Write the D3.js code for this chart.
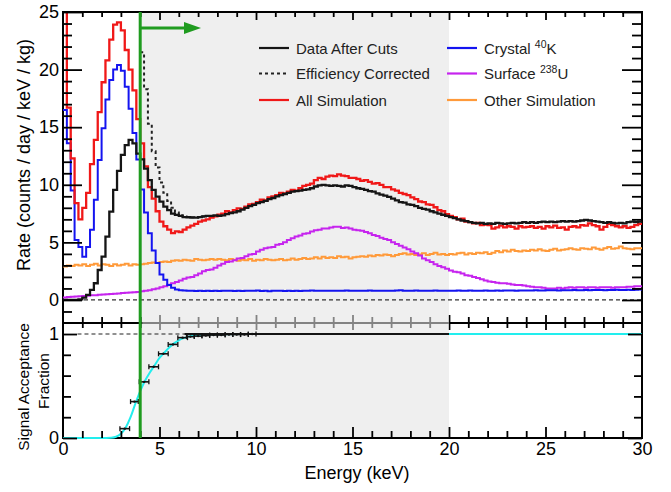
<!DOCTYPE html>
<html><head><meta charset="utf-8">
<script src="https://cdn.jsdelivr.net/npm/d3@7"></script>
<style>body{margin:0;background:#fff}svg{display:block}text{font-family:"Liberation Sans",Arial,Helvetica,sans-serif}</style>
</head><body><svg id="c" width="671" height="492"></svg>
<script>
// ---------------- DATA ----------------
const binWidth = 0.2; // keV, histograms start at 0 keV
const dataAfterCuts = [
0,0,0,0,0.05,0.2,0.45,0.87,1.45,2.6,
3.76,5.5,7.67,9.55,11.2,12.6,13.45,13.9,13.6,12.7,
12.2,11.4,10.4,9.55,8.97,8.53,8.1,7.8,7.5,7.38,
7.3,7.2,7.18,7.15,7.15,7.2,7.25,7.3,7.3,7.35,
7.3,7.35,7.45,7.55,7.6,7.7,7.85,8.0,8.15,8.25,
8.4,8.5,8.6,8.75,8.85,9.0,9.1,9.2,9.3,9.4,
9.45,9.5,9.55,9.6,9.7,9.85,9.95,10.0,9.95,9.9,
9.95,9.9,9.85,9.95,9.9,9.8,9.7,9.65,9.55,9.45,
9.4,9.25,9.15,9.05,8.95,8.8,8.65,8.5,8.45,8.3,
8.25,8.15,8.0,7.9,7.85,7.7,7.6,7.5,7.4,7.3,
7.2,7.1,7.0,6.9,6.85,6.75,6.7,6.65,6.7,6.6,
6.65,6.6,6.7,6.65,6.6,6.65,6.7,6.65,6.7,6.75,
6.7,6.75,6.7,6.75,6.8,6.75,6.8,6.75,6.8,6.85,
6.8,6.85,6.8,6.85,6.9,6.95,6.9,6.85,6.8,6.75,
6.7,6.75,6.7,6.65,6.7,6.65,6.75,6.8,6.75,6.8];
const effCorrectedStartBin = 20;
const efficiencyCorrected = [21.5,18.3,15.3,12.9,11.5,10.2,9.3,8.6,8.0,7.6,7.35,7.25,7.2,7.18,7.16,7.2,7.25];
const allSimulation = [
28,16.7,12.3,8.4,7.0,8.0,9.3,11.8,13.9,16.3,
18.9,20.8,22.6,23.9,24.1,23.4,21.7,20.0,18.2,15.7,
13.6,11.6,9.8,8.8,7.7,6.8,6.4,6.1,5.8,5.95,
5.9,6.1,6.3,6.45,6.6,6.8,6.9,7.0,7.15,7.25,
7.4,7.5,7.7,7.6,7.8,7.95,7.9,8.1,8.3,8.35,
8.5,8.7,8.65,8.9,9.0,9.1,9.3,9.25,9.4,9.55,
9.5,9.7,9.9,10.0,10.1,10.4,10.6,10.5,10.7,10.8,
10.75,10.9,10.8,10.75,10.6,10.6,10.5,10.35,10.4,10.25,
10.1,10.15,10.0,9.8,9.8,9.6,9.5,9.3,9.2,9.1,
8.9,8.75,8.55,8.5,8.3,8.25,8.05,7.8,7.7,7.45,
7.3,7.2,7.0,7.05,6.8,6.75,6.65,6.7,6.5,6.55,
6.5,6.2,6.3,6.45,6.3,6.4,6.35,6.2,6.4,6.3,
6.35,6.4,6.25,6.35,6.2,6.4,6.3,6.45,6.25,6.3,
6.1,6.35,6.4,6.3,6.5,6.45,6.65,6.5,6.4,6.1,
6.35,6.6,6.5,6.4,6.3,6.4,6.25,6.35,6.5,6.6];
const crystalK40 = [
16.5,13.6,9.5,5.2,4.6,3.76,4.6,6.1,8.7,12.15,
14.9,17.4,19.1,20.0,20.4,19.9,18.5,16.6,14.5,12.2,
9.6,7.6,5.8,4.3,3.2,2.2,1.75,1.3,1.05,0.9,
0.85,0.82,0.8,0.8,0.78,0.8,0.78,0.8,0.77,0.8,
0.78,0.8,0.79,0.8,0.77,0.8,0.78,0.8,0.79,0.8,
0.82,0.78,0.8,0.76,0.8,0.79,0.8,0.78,0.8,0.77,
0.8,0.78,0.79,0.8,0.82,0.8,0.79,0.8,0.81,0.8,
0.8,0.79,0.8,0.83,0.8,0.81,0.79,0.8,0.8,0.82,
0.8,0.79,0.8,0.81,0.8,0.8,0.82,0.85,0.8,0.81,
0.8,0.82,0.8,0.81,0.8,0.8,0.82,0.8,0.79,0.8,
0.81,0.8,0.82,0.8,0.8,0.83,0.8,0.81,0.8,0.82,
0.8,0.81,0.82,0.8,0.82,0.83,0.82,0.8,0.83,0.82,
0.83,0.82,0.84,0.83,0.82,0.84,0.85,0.84,0.83,0.85,
0.84,0.85,0.86,0.85,0.84,0.86,0.85,0.86,0.87,0.86,
0.85,0.87,0.86,0.88,0.87,0.86,0.88,0.87,0.88,0.9];
const surfaceU238 = [
0.22,0.25,0.27,0.3,0.32,0.35,0.37,0.4,0.42,0.45,
0.47,0.5,0.52,0.55,0.57,0.6,0.62,0.65,0.67,0.7,
0.75,0.8,0.85,0.92,1.0,1.1,1.2,1.32,1.45,1.55,
1.7,1.85,1.95,2.0,2.15,2.3,2.5,2.6,2.65,2.8,
3.0,3.15,3.3,3.35,3.45,3.6,3.65,3.8,3.95,4.0,
4.2,4.35,4.5,4.55,4.6,4.8,4.85,5.0,5.2,5.35,
5.5,5.6,5.75,5.8,5.95,6.05,6.1,6.2,6.2,6.3,
6.35,6.35,6.25,6.3,6.2,6.1,6.05,6.0,5.9,5.8,
5.65,5.55,5.4,5.3,5.2,5.0,4.85,4.7,4.55,4.4,
4.2,4.05,3.85,3.6,3.45,3.3,3.1,2.95,2.85,2.7,
2.55,2.45,2.4,2.3,2.15,2.1,2.0,1.9,1.8,1.7,
1.6,1.55,1.5,1.45,1.45,1.4,1.35,1.3,1.3,1.25,
1.2,1.15,1.1,1.1,1.05,1.0,1.0,1.0,1.05,1.0,
1.05,1.1,1.05,1.1,1.1,1.05,1.1,1.1,1.05,1.1,
1.1,1.1,1.05,1.1,1.1,1.1,1.15,1.15,1.2,1.2];
const otherSimulation = [
2.9,3.0,2.95,3.05,3.0,3.1,2.95,3.05,3.15,3.0,
3.1,3.05,2.95,3.1,3.0,3.05,3.15,3.0,3.1,3.05,
3.1,3.15,3.2,3.25,3.2,3.3,3.35,3.3,3.4,3.45,
3.4,3.5,3.45,3.4,3.55,3.5,3.45,3.5,3.55,3.5,
3.55,3.5,3.45,3.55,3.5,3.4,3.5,3.45,3.55,3.4,
3.5,3.45,3.55,3.5,3.45,3.5,3.55,3.45,3.5,3.6,
3.5,3.55,3.65,3.55,3.6,3.7,3.6,3.75,3.65,3.7,
3.65,3.8,3.7,3.75,3.6,3.7,3.75,3.8,3.75,3.85,
3.8,3.9,3.85,3.95,3.9,3.8,3.9,4.0,4.05,3.95,
4.0,3.9,3.95,4.05,3.9,4.0,4.1,3.95,4.0,3.9,
4.0,3.95,4.05,4.1,3.95,4.05,4.0,4.1,4.05,4.15,
4.0,4.1,4.25,4.15,4.3,4.2,4.35,4.25,4.2,4.3,
4.25,4.35,4.3,4.4,4.3,4.25,4.35,4.45,4.3,4.35,
4.4,4.5,4.4,4.35,4.5,4.45,4.4,4.55,4.45,4.35,
4.5,4.6,4.45,4.5,4.65,4.5,4.45,4.4,4.5,4.5];

// acceptance (bottom panel)
const accCurveE = [0,1,2,2.5,2.75,3.0,3.25,3.5,3.75,4.0,4.25,4.5,4.75,5.0,5.25,5.5,5.75,6.0,6.25,6.5,7.0,8.0,10,20,30];
const accCurveV = [0,0,0,0.003,0.012,0.04,0.1,0.2,0.33,0.45,0.55,0.63,0.7,0.77,0.82,0.87,0.91,0.94,0.96,0.975,0.99,0.998,1,1,1];
const accPointE = [3.2,3.7,4.2,4.7,5.2,5.7,6.2,6.6,7.0,7.4,7.8,8.2,8.6,9.0,9.4,9.8];
const accPointV = [0.09,0.35,0.54,0.685,0.81,0.9,0.965,0.975,0.98,0.985,0.99,0.99,0.995,0.995,0.995,1.0];
const accPointErr = [0.25,0.2,0.25,0.25,0.25,0.25,0.25,0.2,0.2,0.2,0.2,0.2,0.2,0.2,0.2,0.2];
const accPlateau = [6.3, 20];
const refLineStart = 0.75;

const thresholdE = 4;
const arrowEndE = 7.15;
const shadeRange = [4, 20];
const xTicksMajor = [0,5,10,15,20,25,30];
const yTopTicksMajor = [0,5,10,15,20,25];
const yBotTicksMajor = [0,1];
const yBotTicksMinor = [0.2,0.4,0.6,0.8];

// ---------------- LAYOUT ----------------
const X0=63, X1=642, TT=12, TB=323, BB=438;
const svg = d3.select('#c');
const x = d3.scaleLinear().domain([0,30]).range([X0,X1]);
const yT = d3.scaleLinear().domain([-2,25]).range([TB,TT]);
const yB = d3.scaleLinear().domain([0,1.106]).range([BB,TB]);

// shaded signal region
svg.append('rect').attr('x',x(shadeRange[0])).attr('y',TT)
  .attr('width',x(shadeRange[1])-x(shadeRange[0])).attr('height',BB-TT).attr('fill','#efefef');

// frames (drawn first so bottom-panel curves sit on top, as in the original)
svg.append('rect').attr('x',X0).attr('y',TT).attr('width',X1-X0).attr('height',TB-TT).attr('fill','none').attr('stroke','#000').attr('stroke-width',2);
svg.append('rect').attr('x',X0).attr('y',TB).attr('width',X1-X0).attr('height',BB-TB).attr('fill','none').attr('stroke','#000').attr('stroke-width',2);

const defs = svg.append('defs');
defs.append('clipPath').attr('id','clipT').append('rect').attr('x',X0).attr('y',TT).attr('width',X1-X0).attr('height',TB-TT);
defs.append('clipPath').attr('id','clipB').append('rect').attr('x',X0).attr('y',TB).attr('width',X1-X0).attr('height',BB-TB+1);

const gT = svg.append('g').attr('clip-path','url(#clipT)');
gT.append('line').attr('x1',x(0)).attr('x2',x(30)).attr('y1',yT(0)).attr('y2',yT(0))
  .attr('stroke','#333').attr('stroke-width',1.2).attr('stroke-dasharray','4,3');

function stepPts(vals, startBin){
  const p = vals.map((v,i)=>[(startBin+i)*binWidth, v]);
  p.push([(startBin+vals.length)*binWidth, vals[vals.length-1]]);
  return p;
}
const stepLine = d3.line().x(d=>x(d[0])).y(d=>yT(d[1])).curve(d3.curveStepAfter);

const series = [
  {vals:otherSimulation, start:0, color:'#ff9a3a', w:2},
  {vals:surfaceU238, start:0, color:'#c624ee', w:2},
  {vals:crystalK40, start:0, color:'#1414f0', w:2},
  {vals:allSimulation, start:0, color:'#f01818', w:2.3},
  {vals:efficiencyCorrected, start:effCorrectedStartBin, color:'#222', w:2, dash:'3,3'},
  {vals:dataAfterCuts, start:0, color:'#151515', w:2.3}
];
series.forEach(s=>{
  gT.append('path').attr('d',stepLine(stepPts(s.vals,s.start))).attr('fill','none')
    .attr('stroke',s.color).attr('stroke-width',s.w).attr('stroke-linejoin','miter')
    .attr('stroke-dasharray',s.dash||null);
});

// bottom panel
const gB = svg.append('g').attr('clip-path','url(#clipB)');
gB.append('line').attr('x1',x(refLineStart)).attr('x2',x(30)).attr('y1',yB(1)).attr('y2',yB(1))
  .attr('stroke','#222').attr('stroke-width',1.2).attr('stroke-dasharray','4,3');
const accLine = d3.line().x((d,i)=>x(d)).y((d,i)=>yB(accCurveV[i])).curve(d3.curveMonotoneX);
gB.append('path').attr('d',accLine(accCurveE)).attr('fill','none').attr('stroke','#22eeee').attr('stroke-width',2);
gB.append('line').attr('x1',x(accPlateau[0])).attr('x2',x(accPlateau[1])).attr('y1',yB(1)).attr('y2',yB(1))
  .attr('stroke','#151515').attr('stroke-width',2);
accPointE.forEach((e,i)=>{
  const yy = yB(accPointV[i]), xa = x(e-accPointErr[i]), xb = x(e+accPointErr[i]);
  gB.append('line').attr('x1',xa).attr('x2',xb).attr('y1',yy).attr('y2',yy).attr('stroke','#111').attr('stroke-width',1.6);
  [xa,xb].forEach(xx=>gB.append('line').attr('x1',xx).attr('x2',xx).attr('y1',yy-2.5).attr('y2',yy+2.5).attr('stroke','#111').attr('stroke-width',1.3));
  gB.append('circle').attr('cx',x(e)).attr('cy',yy).attr('r',1.2).attr('fill','#111');
});

function tickAxis(gen, values, size, tr){
  const g = svg.append('g').attr('transform',tr).call(gen.tickValues(values).tickSize(size).tickFormat(''));
  g.select('.domain').remove();
  g.selectAll('line').attr('stroke','#000').attr('stroke-width',1.8);
}
const xMinor = d3.range(1,30).filter(v=>v%5!==0);
const xMajorIn = [5,10,15,20,25];
const yTMinor = d3.range(-1,25).filter(v=>v%5!==0);
// top panel
tickAxis(d3.axisRight(yT), yTMinor, 9, `translate(${X0},0)`);
tickAxis(d3.axisRight(yT), yTopTicksMajor, 19, `translate(${X0},0)`);
tickAxis(d3.axisLeft(yT), yTMinor, 10, `translate(${X1},0)`);
tickAxis(d3.axisLeft(yT), yTopTicksMajor, 20, `translate(${X1},0)`);
tickAxis(d3.axisBottom(x), xMinor, 5, `translate(0,${TT})`);
tickAxis(d3.axisBottom(x), xMajorIn, 8, `translate(0,${TT})`);
tickAxis(d3.axisTop(x), xMinor, 6, `translate(0,${TB})`);
tickAxis(d3.axisTop(x), xMajorIn, 8, `translate(0,${TB})`);
// bottom panel
tickAxis(d3.axisBottom(x), xMinor, 5, `translate(0,${TB})`);
tickAxis(d3.axisBottom(x), xMajorIn, 7, `translate(0,${TB})`);
tickAxis(d3.axisTop(x), xMinor, 7, `translate(0,${BB})`);
tickAxis(d3.axisTop(x), xMajorIn, 11, `translate(0,${BB})`);
tickAxis(d3.axisRight(yB), yBotTicksMinor, 8, `translate(${X0},0)`);
tickAxis(d3.axisRight(yB), yBotTicksMajor, 14, `translate(${X0},0)`);
tickAxis(d3.axisLeft(yB), yBotTicksMinor, 8, `translate(${X1},0)`);
tickAxis(d3.axisLeft(yB), yBotTicksMajor, 14, `translate(${X1},0)`);

// lighten the shared axis inside the shaded band
svg.append('rect').attr('x',x(shadeRange[0])+2).attr('y',TB-11)
  .attr('width',x(shadeRange[1])-x(shadeRange[0])-2).attr('height',19)
  .attr('fill','#efefef').attr('opacity',0.55);

// threshold line + arrow
svg.append('line').attr('x1',x(thresholdE)).attr('x2',x(thresholdE)).attr('y1',TT).attr('y2',BB)
  .attr('stroke','#1f9b1f').attr('stroke-width',3);
const ay = 28;
svg.append('line').attr('x1',x(thresholdE)).attr('x2',x(arrowEndE)-14).attr('y1',ay).attr('y2',ay)
  .attr('stroke','#1f9b1f').attr('stroke-width',3);
svg.append('path').attr('d',`M${x(arrowEndE)},${ay} L${x(arrowEndE)-17},${ay-6} L${x(arrowEndE)-17},${ay+6} Z`).attr('fill','#1f9b1f');

// tick labels
function labelAxis(gen, values, tr, pad){
  const g = svg.append('g').attr('transform',tr).call(gen.tickValues(values).tickSize(0).tickPadding(pad).tickFormat(d3.format('d')));
  g.select('.domain').remove();
  g.selectAll('text').attr('font-size',18).attr('font-family','"Liberation Sans",Arial,sans-serif').attr('fill','#000');
}
labelAxis(d3.axisLeft(yT), yTopTicksMajor, `translate(${X0},0)`, 4);
labelAxis(d3.axisLeft(yB), yBotTicksMajor, `translate(${X0},0)`, 4);
labelAxis(d3.axisBottom(x), xTicksMajor, `translate(0,${BB})`, 4);

// axis titles
svg.append('text').attr('transform','translate(30,155) rotate(-90)').attr('text-anchor','middle')
  .attr('font-size',18).text('Rate (counts / day / keV / kg)');
svg.append('text').attr('transform','translate(29,387) rotate(-90)').attr('text-anchor','middle')
  .attr('font-size',15.5).text('Signal Acceptance');
svg.append('text').attr('transform','translate(49,381) rotate(-90)').attr('text-anchor','middle')
  .attr('font-size',15.5).text('Fraction');
svg.append('text').attr('x',357).attr('y',479).attr('text-anchor','middle').attr('font-size',18).text('Energy (keV)');

// legend
const legend = [
  {col:0,row:0,color:'#151515',label:['Data After Cuts']},
  {col:0,row:1,color:'#222',dash:'3,3',label:['Efficiency Corrected']},
  {col:0,row:2,color:'#f01818',label:['All Simulation']},
  {col:1,row:0,color:'#1414f0',label:['Crystal ','40','K']},
  {col:1,row:1,color:'#c624ee',label:['Surface ','238','U']},
  {col:1,row:2,color:'#ff9a3a',label:['Other Simulation']}
];
const colX = [259, 447], rowY = [48, 73.5, 100];
legend.forEach(l=>{
  const lx = colX[l.col], ly = rowY[l.row];
  svg.append('line').attr('x1',lx).attr('x2',lx+30).attr('y1',ly).attr('y2',ly)
    .attr('stroke',l.color).attr('stroke-width',2.2).attr('stroke-dasharray',l.dash||null);
  const t = svg.append('text').attr('x',lx+37).attr('y',ly+5.5).attr('font-size',15).attr('fill','#222');
  t.append('tspan').text(l.label[0]);
  if(l.label.length>1){
    t.append('tspan').attr('font-size',10.5).attr('dy',-6).text(l.label[1]);
    t.append('tspan').attr('dy',6).text(l.label[2]);
  }
});
</script></body></html>
